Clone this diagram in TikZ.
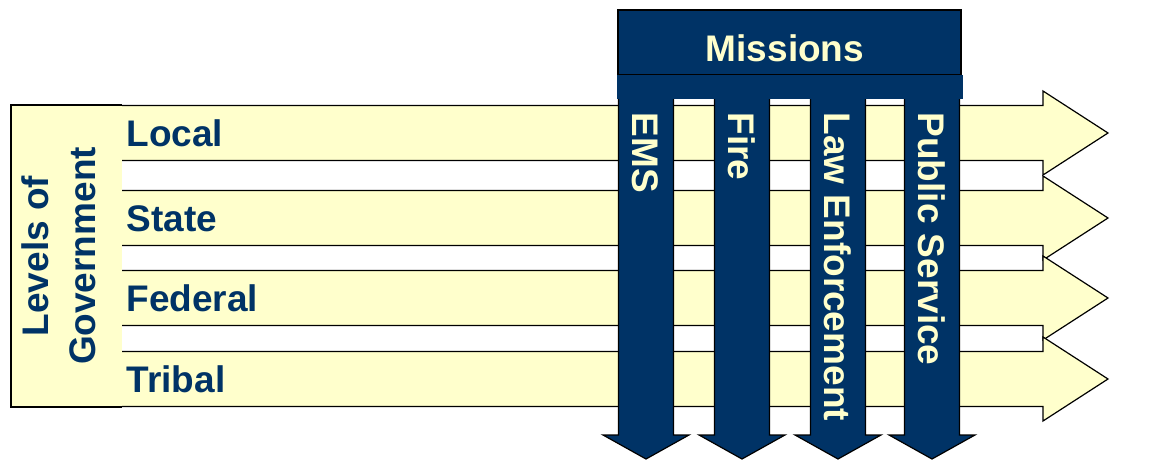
\documentclass[tikz,border=0pt]{standalone}
\usepackage{fontspec}
\setmainfont{Liberation Sans}
\usepackage{tikz}
\usetikzlibrary{positioning}
\definecolor{navy}{HTML}{003366}
\definecolor{cream}{HTML}{FFFFCC}

\begin{document}
\begin{tikzpicture}[x=1pt, y=-1pt, line width=1.2pt,
    lbl/.style={font=\fontsize{37}{44}\selectfont\bfseries, inner sep=0pt, text height=26.5pt, text depth=0pt},
    level/.style={lbl, text=navy, anchor=west},
    mission/.style={lbl, text=cream, rotate=-90, anchor=west}]
    \useasboundingbox (0,0) rectangle (1171,465);

    % Levels of government
    \foreach \c/\name/\txt in {133/local/Local, 218/state/State, 298/federal/Federal, 379/tribal/Tribal} {
        \filldraw[fill=cream] (107,\c-27.5) -- (1043,\c-27.5) -- (1043,\c-42) -- (1108,\c)
            -- (1043,\c+42) -- (1043,\c+27.5) -- (107,\c+27.5) -- cycle;
        \node[level] (\name) at (126,\c) {\txt};
    }
    \fill[cream] (11,105) rectangle (122,407);
    \draw (122,105) -- (11,105) -- (11,407) -- (122,407);
    \node[inner sep=0pt, text=navy, rotate=90, align=center,
        font=\fontsize{37}{47}\selectfont\bfseries] (levels) at (59,256) {Levels of\\Government};

    % Missions
    \foreach \x/\name/\txt in {646/ems/EMS, 742/fire/Fire, 838/law/Law Enforcement, 932/public/Public Service} {
        \filldraw[fill=navy] (\x-27.5,75) -- (\x-27.5,435) -- (\x-43,435) -- (\x,459)
            -- (\x+43,435) -- (\x+27.5,435) -- (\x+27.5,75) -- cycle;
        \node[mission] (\name) at (\x,112) {\txt};
    }
    \filldraw[fill=navy] (618,10) rectangle (961,75);
    \fill[navy] (617,75) rectangle (963,99);
    \node[lbl, text=cream] (missions) at (785,48) {Missions};
\end{tikzpicture}
\end{document}
